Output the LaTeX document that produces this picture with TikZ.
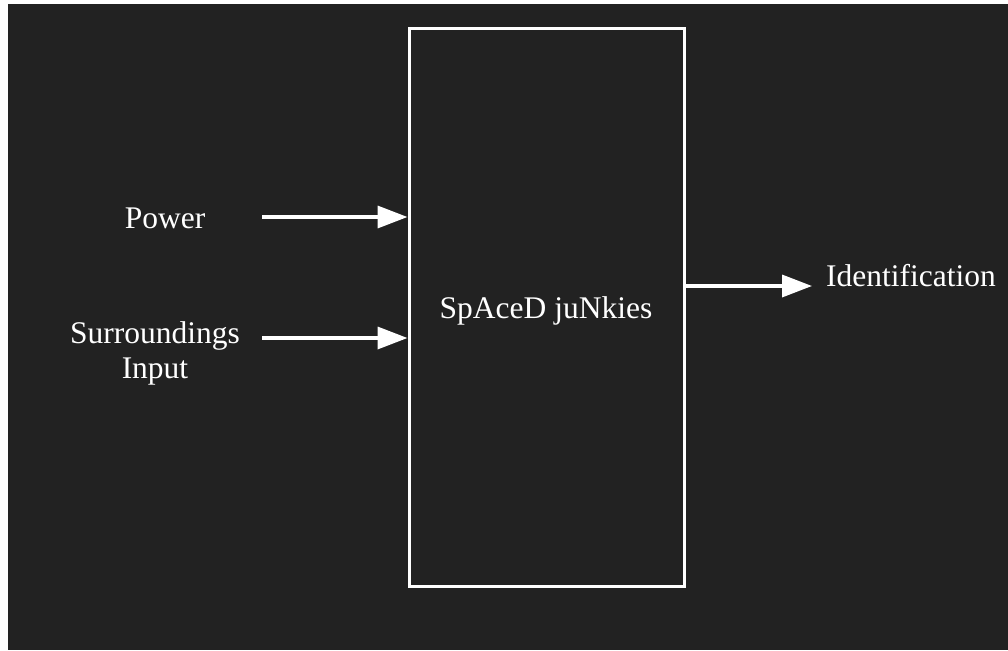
\documentclass[tikz,border=0pt]{standalone}
\usepackage{fontspec}
\setmainfont{Liberation Serif}
\usetikzlibrary{arrows.meta}

\begin{document}
\begin{tikzpicture}[x=1pt,y=-1pt]
  \definecolor{kBack}{rgb}{0.133,0.133,0.133}
  \tikzset{
    lbl/.style={text=white,font=\fontsize{31.5}{35}\selectfont,align=center},
    blk/.style={draw=white,line width=3pt,minimum width=275pt,minimum height=557pt,inner sep=0pt},
    arr/.style={draw=white,line width=3.5pt,-{Triangle[length=30pt,width=22pt]}}
  }

  % background
  \useasboundingbox (0,0) rectangle (1008,650);
  \fill[kBack] (8,4) rectangle (1008,650);

  % block
  \node[blk] (junkies) at (546.5,307.5) {};
  \node[lbl] (name) at (546,311) {SpAceD juNkies};

  % labels
  \node[lbl] (power) at (165,218) {Power};
  \node[lbl] (surr) at (155,353) {Surroundings\\Input};
  \node[lbl] (ident) at (911,276) {Identification};

  % arrows in
  \foreach \n/\y in {pwr/217,sur/338}
  {
    \coordinate (\n S) at (262,\y);
    \draw[arr] (\n S) -- (\n S -| junkies.west);
  }

  % arrow out
  \coordinate (idE) at (812,286);
  \draw[arr] (idE -| junkies.east) -- (idE);

\end{tikzpicture}
\end{document}
